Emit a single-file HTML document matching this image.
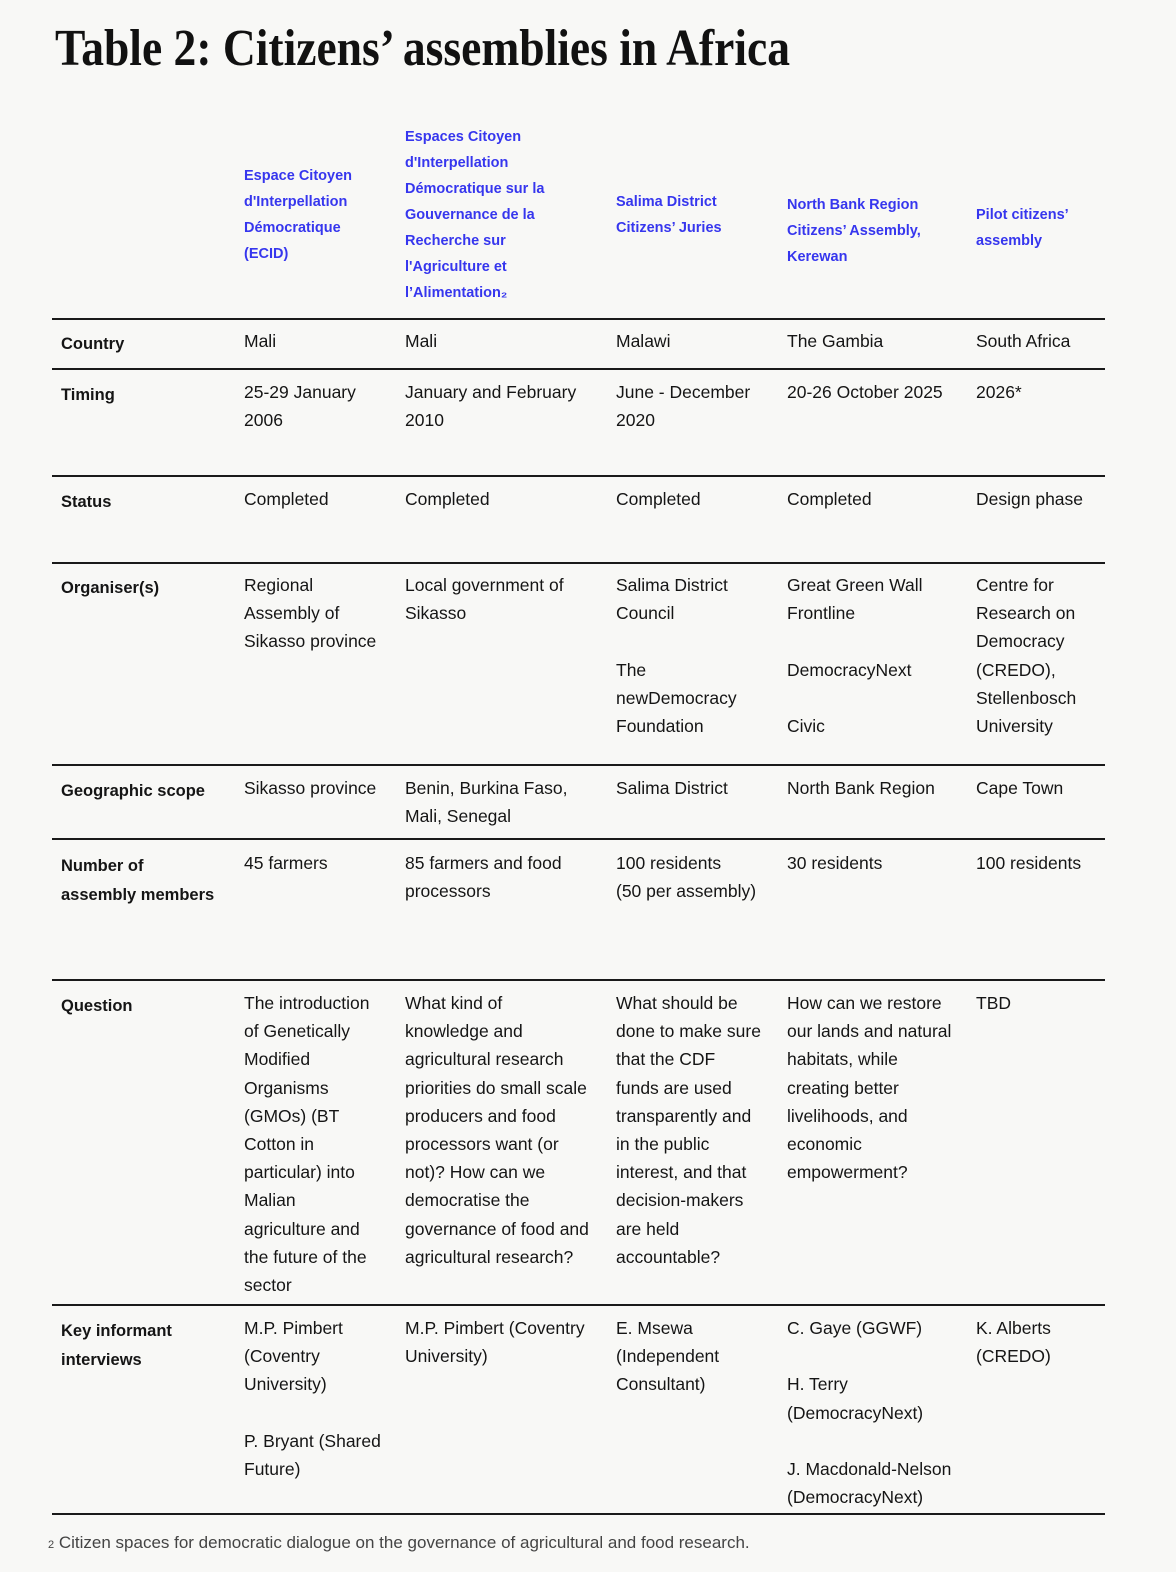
<!DOCTYPE html>
<html><head><meta charset="utf-8"><style>
body{margin:0;background:#f8f8f6;}
#p{position:relative;width:1176px;height:1572px;overflow:hidden;font-family:"Liberation Sans",sans-serif;color:#151515;}
.t{position:absolute;font-size:17.5px;line-height:28.2px;white-space:nowrap;}
.l{position:absolute;left:61px;font-size:16.5px;font-weight:bold;line-height:29px;white-space:nowrap;}
.h{position:absolute;font-size:14.5px;font-weight:bold;line-height:26px;color:#3636ee;white-space:nowrap;}
.r{position:absolute;left:52px;width:1053px;height:2px;background:#1a1a1a;}
</style></head><body><div id="p">
<svg style="position:absolute;left:0;top:0" width="1176" height="100"><text x="55" y="65" font-family="Liberation Serif,serif" font-weight="bold" font-size="52" fill="#111" textLength="735" lengthAdjust="spacingAndGlyphs">Table 2: Citizens’ assemblies in Africa</text></svg>

<div class="h" style="left:244px;top:163px">Espace Citoyen<br>d'Interpellation<br>Démocratique<br>(ECID)</div>
<div class="h" style="left:405px;top:124px">Espaces Citoyen<br>d'Interpellation<br>Démocratique sur la<br>Gouvernance de la<br>Recherche sur<br>l'Agriculture et<br>l’Alimentation₂</div>
<div class="h" style="left:616px;top:189px">Salima District<br>Citizens’ Juries</div>
<div class="h" style="left:787px;top:192px">North Bank Region<br>Citizens’ Assembly,<br>Kerewan</div>
<div class="h" style="left:976px;top:202px">Pilot citizens’<br>assembly</div>

<div class="r" style="top:318px"></div>
<div class="l" style="top:330px">Country</div>
<div class="t" style="left:244px;top:327px">Mali</div>
<div class="t" style="left:405px;top:327px">Mali</div>
<div class="t" style="left:616px;top:327px">Malawi</div>
<div class="t" style="left:787px;top:327px">The Gambia</div>
<div class="t" style="left:976px;top:327px">South Africa</div>

<div class="r" style="top:368px"></div>
<div class="l" style="top:381px">Timing</div>
<div class="t" style="left:244px;top:378px">25-29 January<br>2006</div>
<div class="t" style="left:405px;top:378px">January and February<br>2010</div>
<div class="t" style="left:616px;top:378px">June - December<br>2020</div>
<div class="t" style="left:787px;top:378px">20-26 October 2025</div>
<div class="t" style="left:976px;top:378px">2026*</div>

<div class="r" style="top:475px"></div>
<div class="l" style="top:488px">Status</div>
<div class="t" style="left:244px;top:485px">Completed</div>
<div class="t" style="left:405px;top:485px">Completed</div>
<div class="t" style="left:616px;top:485px">Completed</div>
<div class="t" style="left:787px;top:485px">Completed</div>
<div class="t" style="left:976px;top:485px">Design phase</div>

<div class="r" style="top:562px"></div>
<div class="l" style="top:574px">Organiser(s)</div>
<div class="t" style="left:244px;top:571px">Regional<br>Assembly of<br>Sikasso province</div>
<div class="t" style="left:405px;top:571px">Local government of<br>Sikasso</div>
<div class="t" style="left:616px;top:571px">Salima District<br>Council<br><br>The<br>newDemocracy<br>Foundation</div>
<div class="t" style="left:787px;top:571px">Great Green Wall<br>Frontline<br><br>DemocracyNext<br><br>Civic</div>
<div class="t" style="left:976px;top:571px">Centre for<br>Research on<br>Democracy<br>(CREDO),<br>Stellenbosch<br>University</div>

<div class="r" style="top:764px"></div>
<div class="l" style="top:777px">Geographic scope</div>
<div class="t" style="left:244px;top:774px">Sikasso province</div>
<div class="t" style="left:405px;top:774px">Benin, Burkina Faso,<br>Mali, Senegal</div>
<div class="t" style="left:616px;top:774px">Salima District</div>
<div class="t" style="left:787px;top:774px">North Bank Region</div>
<div class="t" style="left:976px;top:774px">Cape Town</div>

<div class="r" style="top:838px"></div>
<div class="l" style="top:852px">Number of<br>assembly members</div>
<div class="t" style="left:244px;top:849px">45 farmers</div>
<div class="t" style="left:405px;top:849px">85 farmers and food<br>processors</div>
<div class="t" style="left:616px;top:849px">100 residents<br>(50 per assembly)</div>
<div class="t" style="left:787px;top:849px">30 residents</div>
<div class="t" style="left:976px;top:849px">100 residents</div>

<div class="r" style="top:979px"></div>
<div class="l" style="top:992px">Question</div>
<div class="t" style="left:244px;top:989px">The introduction<br>of Genetically<br>Modified<br>Organisms<br>(GMOs) (BT<br>Cotton in<br>particular) into<br>Malian<br>agriculture and<br>the future of the<br>sector</div>
<div class="t" style="left:405px;top:989px">What kind of<br>knowledge and<br>agricultural research<br>priorities do small scale<br>producers and food<br>processors want (or<br>not)? How can we<br>democratise the<br>governance of food and<br>agricultural research?</div>
<div class="t" style="left:616px;top:989px">What should be<br>done to make sure<br>that the CDF<br>funds are used<br>transparently and<br>in the public<br>interest, and that<br>decision-makers<br>are held<br>accountable?</div>
<div class="t" style="left:787px;top:989px">How can we restore<br>our lands and natural<br>habitats, while<br>creating better<br>livelihoods, and<br>economic<br>empowerment?</div>
<div class="t" style="left:976px;top:989px">TBD</div>

<div class="r" style="top:1304px"></div>
<div class="l" style="top:1317px">Key informant<br>interviews</div>
<div class="t" style="left:244px;top:1314px">M.P. Pimbert<br>(Coventry<br>University)<br><br>P. Bryant (Shared<br>Future)</div>
<div class="t" style="left:405px;top:1314px">M.P. Pimbert (Coventry<br>University)</div>
<div class="t" style="left:616px;top:1314px">E. Msewa<br>(Independent<br>Consultant)</div>
<div class="t" style="left:787px;top:1314px">C. Gaye (GGWF)<br><br>H. Terry<br>(DemocracyNext)<br><br>J. Macdonald-Nelson<br>(DemocracyNext)</div>
<div class="t" style="left:976px;top:1314px">K. Alberts<br>(CREDO)</div>

<div class="r" style="top:1513px"></div>
<div class="t" style="left:48px;top:1529px;color:#444;font-size:17px"><span style="font-size:11px">2</span> Citizen spaces for democratic dialogue on the governance of agricultural and food research.</div>
</div></body></html>
